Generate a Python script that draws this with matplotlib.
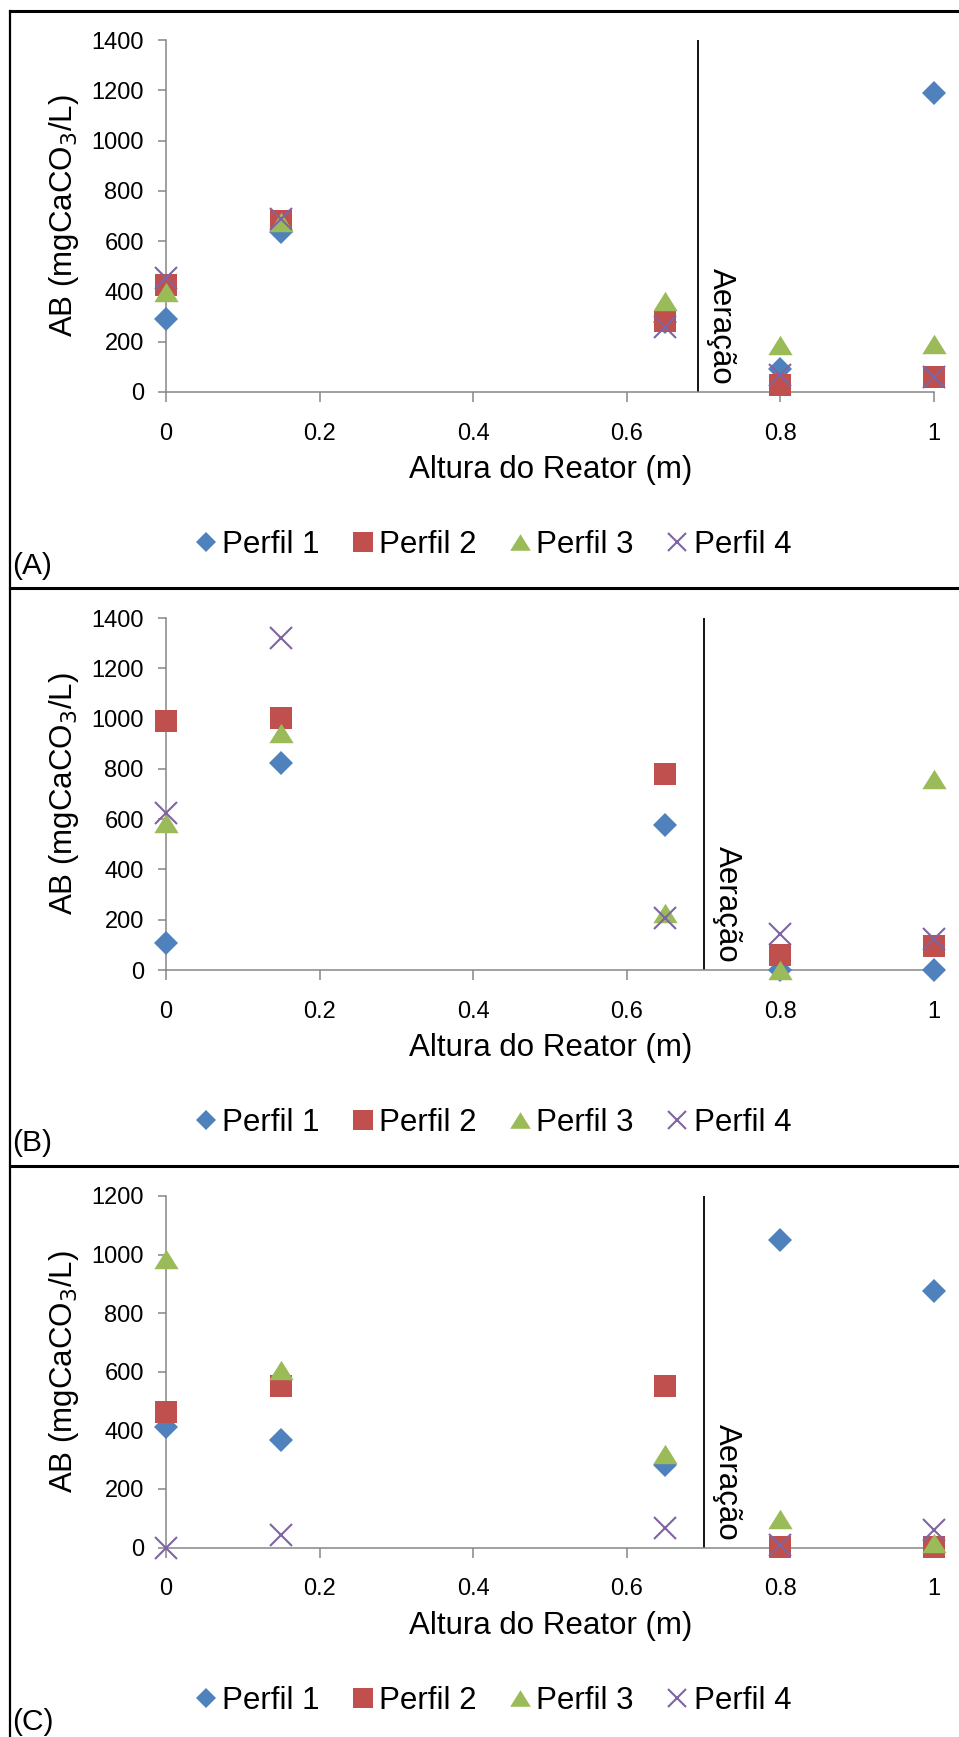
import numpy as np
import matplotlib
matplotlib.use("Agg")
import matplotlib.pyplot as plt
from matplotlib.lines import Line2D

plt.rcParams["font.family"] = ["Liberation Sans", "DejaVu Sans"]

# Altura do reator (m)
heights = [0, 0.15, 0.65, 0.8, 1.0]

# Painel A
a_perfil1 = [289, 635, 280, 92, 1190]
a_perfil2 = [426, 682, 282, 28, 60]
a_perfil3 = [398, 678, 360, 185, 190]
a_perfil4 = [452, 688, 259, 68, 60]

# Painel B
b_perfil1 = [107, 822, 575, 0, 0]
b_perfil2 = [989, 1001, 781, 61, 94]
b_perfil3 = [586, 944, 225, 0, 761]
b_perfil4 = [624, 1321, 205, 145, 122]

# Painel C
c_perfil1 = [412, 368, 280, 1049, 877]
c_perfil2 = [462, 550, 550, 3, 3]
c_perfil3 = [984, 607, 318, 98, 16]
c_perfil4 = [0, 41, 67, 10, 60]

panel_labels = ["(A)", "(B)", "(C)"]
y_max = [1400, 1400, 1200]
aeracao_x = [0.693, 0.70, 0.70]
x_ticks = [0, 0.2, 0.4, 0.6, 0.8, 1.0]
x_tick_labels = ["0", "0.2", "0.4", "0.6", "0.8", "1"]
series_names = ["Perfil 1", "Perfil 2", "Perfil 3", "Perfil 4"]

COLORS = ["#4F81BD", "#C0504D", "#9BBB59", "#8064A2"]
TRI = [(-1, -0.8), (1, -0.8), (0, 0.8), (-1, -0.8)]
MARKERS = [dict(marker="D", ms=12.5, mew=0),
           dict(marker="s", ms=16.5, mew=0),
           dict(marker=TRI, ms=17.5, mew=0),
           dict(marker="x", ms=15.5, mew=1.5)]
GRAY = "#868686"

W, H = 959, 1737
# axes boxes in pixels: (left, right, y of value 0, y of ymax)
AX_PX = [(166, 934, 392, 40), (166, 934, 970, 618), (166, 934, 1547.5, 1196)]
LEG_Y = [545, 1123, 1701]
LAB_Y = [566, 1143, 1722]


def draw_panel(fig, i, series):
    l, r, y0, y1 = AX_PX[i]
    ax = fig.add_axes([l / W, 1 - y0 / H, (r - l) / W, (y0 - y1) / H])
    for vals, c, mk in zip(series, COLORS, MARKERS):
        ax.plot(heights, vals, ls="none", color=c, mec=c, clip_on=False, zorder=3, **mk)

    ax.set_xlim(0, 1)
    ax.set_ylim(0, y_max[i])
    ax.set_xticks(x_ticks)
    ax.set_xticklabels(x_tick_labels)
    ax.set_yticks(np.arange(0, y_max[i] + 1, 200))
    for s in ["top", "right"]:
        ax.spines[s].set_visible(False)
    for s in ["left", "bottom"]:
        ax.spines[s].set_color(GRAY)
        ax.spines[s].set_linewidth(1.1)
    ax.tick_params(axis="x", direction="out", length=7, width=1.1, color=GRAY,
                   labelsize=17, pad=15)
    ax.tick_params(axis="y", direction="out", length=6, width=1.1, color=GRAY,
                   labelsize=17, pad=10)

    # linha de aeração
    ax.plot([aeracao_x[i], aeracao_x[i]], [0, y_max[i]], color="black", lw=1.3, zorder=2)
    ax.text(aeracao_x[i] + 0.03, 0.02, "Aeração", rotation=-90, fontsize=22.5,
            ha="center", va="bottom", transform=ax.get_xaxis_transform())

    ax.text(-0.133, 0.5, "AB (mgCaCO$_3$/L)", rotation=90, fontsize=22.5,
            ha="center", va="center", transform=ax.transAxes)
    ax.text(0.5007, -0.222, "Altura do Reator (m)", fontsize=22.5,
            ha="center", va="center", transform=ax.transAxes)

    handles = [Line2D([], [], ls="none", color=c, mec=c, **mk)
               for c, mk in zip(COLORS, MARKERS)]
    fig.legend(handles, series_names, loc="center", ncol=4,
               bbox_to_anchor=(493 / W, 1 - LEG_Y[i] / H), frameon=False,
               fontsize=22.5, handlelength=0.7, handletextpad=0.17,
               columnspacing=1.04, borderpad=0, markerscale=0.85)

    fig.text(12 / W, 1 - LAB_Y[i] / H, panel_labels[i], fontsize=21.5,
             ha="left", va="center")


def main():
    fig = plt.figure(figsize=(W / 100, H / 100), dpi=100)

    draw_panel(fig, 0, [a_perfil1, a_perfil2, a_perfil3, a_perfil4])
    draw_panel(fig, 1, [b_perfil1, b_perfil2, b_perfil3, b_perfil4])
    draw_panel(fig, 2, [c_perfil1, c_perfil2, c_perfil3, c_perfil4])

    # molduras dos painéis
    for yb in [11, 588, 1166]:
        fig.add_artist(Line2D([9.5 / W, 1], [1 - yb / H, 1 - yb / H],
                              transform=fig.transFigure, color="black", lw=2.2))
    fig.add_artist(Line2D([9.5 / W, 9.5 / W], [0, 1 - 11 / H],
                          transform=fig.transFigure, color="black", lw=1.6))

    fig.savefig("out.png", dpi=100)
    plt.close()


if __name__ == "__main__":
    main()
